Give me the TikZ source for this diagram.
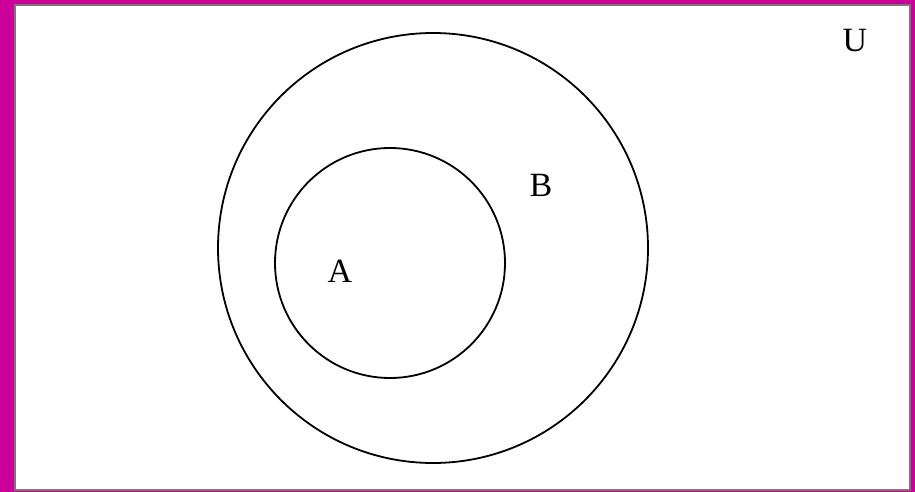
\documentclass[tikz,border=0pt]{standalone}
\usepackage{fontspec}
\setmainfont{Liberation Serif}
\definecolor{frame}{RGB}{204,0,153}
\definecolor{edge}{RGB}{120,120,120}
\tikzset{setcircle/.style={draw=black, line width=1.8pt},
  lbl/.style={font=\fontsize{34}{36}\selectfont, inner sep=0pt}}
\begin{document}
\begin{tikzpicture}[x=1pt,y=-1pt]
\fill[frame] (0,0) rectangle (915,492);
\useasboundingbox (0,0) rectangle (915,492);
\filldraw[fill=white, draw=edge, line width=2pt] (15,5) rectangle (910,490);
\node[setcircle, circle, minimum size=430pt, inner sep=0pt] (B) at (433,248) {};
\node[setcircle, circle, minimum size=230pt, inner sep=0pt] (A) at (390,263) {};
\node[lbl] (lA) at (340,271) {A};
\node[lbl] (lB) at (541,185) {B};
\node[lbl] (lU) at (855,41) {U};
\end{tikzpicture}
\end{document}
